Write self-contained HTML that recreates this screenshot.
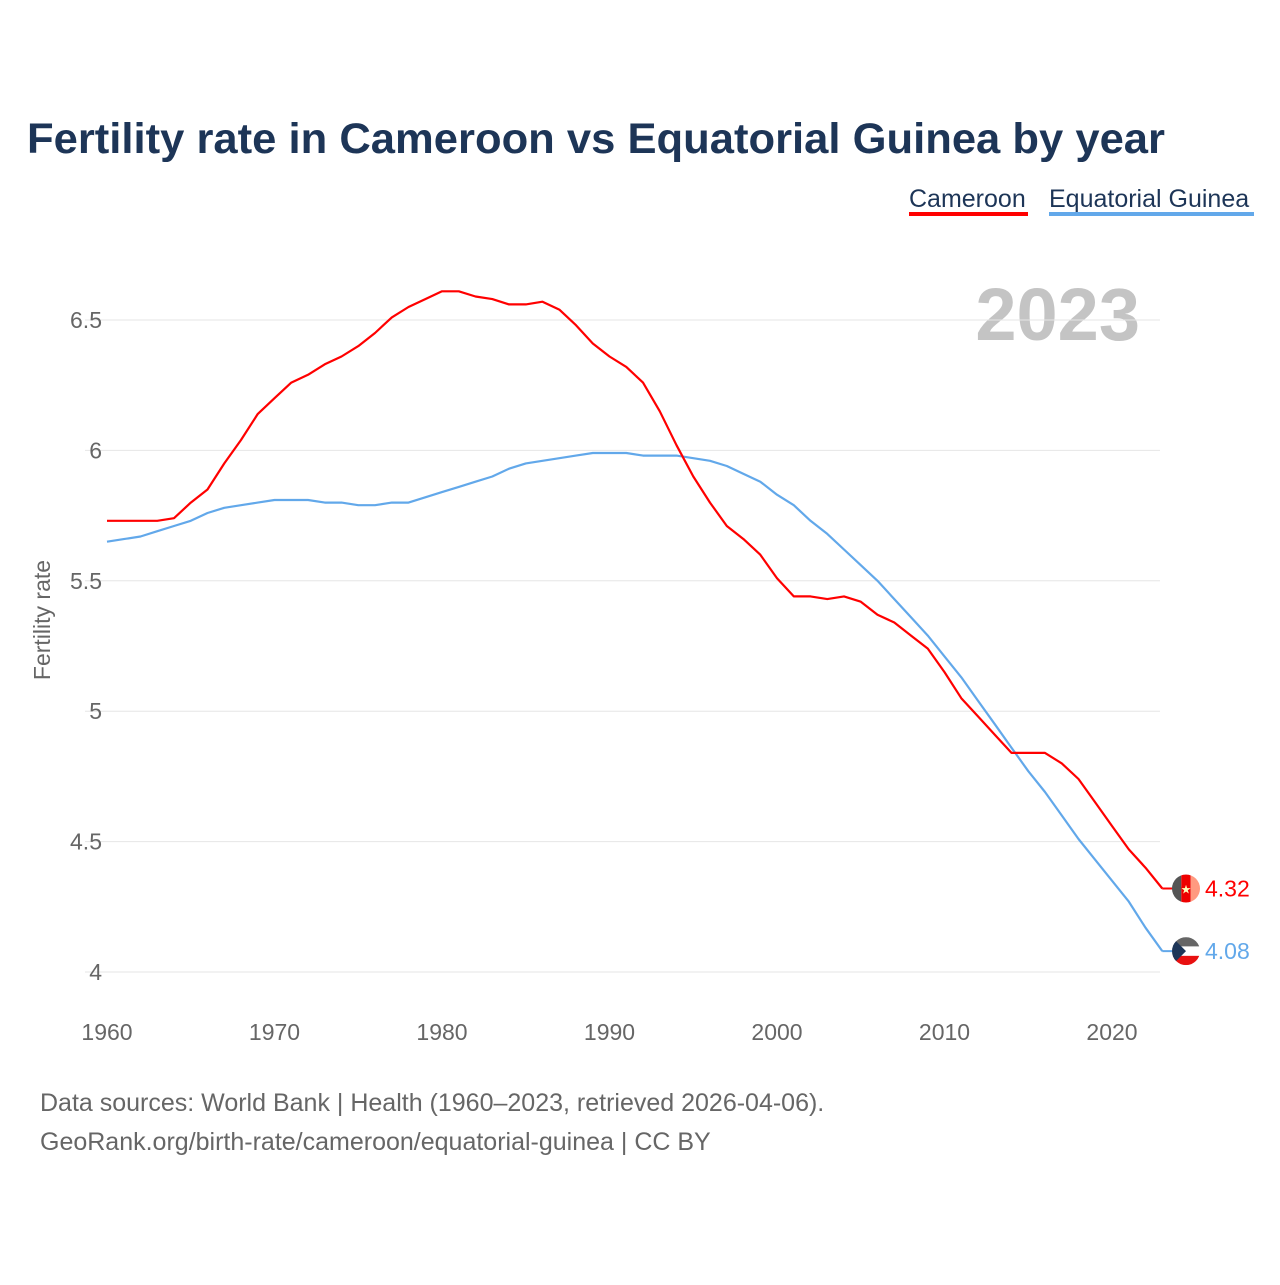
<!DOCTYPE html>
<html><head><meta charset="utf-8"><style>
html,body{margin:0;padding:0;background:#fff;}
body{width:1280px;height:1280px;position:relative;font-family:"Liberation Sans",sans-serif;}
</style></head><body>
<svg width="1280" height="1280" viewBox="0 0 1280 1280" id="chart">
<defs id="defs"></defs>
<text x="27" y="153" font-size="43" font-weight="bold" fill="#1d3557" textLength="1138" lengthAdjust="spacingAndGlyphs">Fertility rate in Cameroon vs Equatorial Guinea by year</text>
<g>
<text x="909" y="207" font-size="25" fill="#1d3557">Cameroon</text>
<rect x="909" y="212" width="119" height="4" fill="#ff0000"/>
<text x="1049" y="207" font-size="25" fill="#1d3557">Equatorial Guinea</text>
<rect x="1049" y="212" width="205" height="4" fill="#62a8ea"/>
</g>
<text x="1140" y="340" font-size="74" font-weight="bold" fill="#c4c4c4" text-anchor="end">2023</text>
<text transform="translate(50,620) rotate(-90)" font-size="23" fill="#666" text-anchor="middle">Fertility rate</text>
<g id="grid"></g><g id="yticks"></g><g id="xticks"></g><g id="series"></g>
<text x="40" y="1111" font-size="25" fill="#666">Data sources: World Bank | Health (1960–2023, retrieved 2026-04-06).</text>
<text x="40" y="1150" font-size="25" fill="#666">GeoRank.org/birth-rate/cameroon/equatorial-guinea | CC BY</text>
</svg>
<script>
const years=[];for(let y=1960;y<=2023;y++)years.push(y);
const cameroon=[5.73,5.73,5.73,5.73,5.74,5.80,5.85,5.95,6.04,6.14,6.20,6.26,6.29,6.33,6.36,6.40,6.45,6.51,6.55,6.58,6.61,6.61,6.59,6.58,6.56,6.56,6.57,6.54,6.48,6.41,6.36,6.32,6.26,6.15,6.02,5.90,5.80,5.71,5.66,5.60,5.51,5.44,5.44,5.43,5.44,5.42,5.37,5.34,5.29,5.24,5.15,5.05,4.98,4.91,4.84,4.84,4.84,4.80,4.74,4.65,4.56,4.47,4.40,4.32];
const eqGuinea=[5.65,5.66,5.67,5.69,5.71,5.73,5.76,5.78,5.79,5.80,5.81,5.81,5.81,5.80,5.80,5.79,5.79,5.80,5.80,5.82,5.84,5.86,5.88,5.90,5.93,5.95,5.96,5.97,5.98,5.99,5.99,5.99,5.98,5.98,5.98,5.97,5.96,5.94,5.91,5.88,5.83,5.79,5.73,5.68,5.62,5.56,5.50,5.43,5.36,5.29,5.21,5.13,5.04,4.95,4.86,4.77,4.69,4.60,4.51,4.43,4.35,4.27,4.17,4.08];
const yTicks=[4,4.5,5,5.5,6,6.5];
const yTickLabels=["4","4.5","5","5.5","6","6.5"];
const xTicks=[1960,1970,1980,1990,2000,2010,2020];
const NS="http://www.w3.org/2000/svg";
const x=v=>107+(v-1960)*(1112-107)/60;
const y=v=>972-(v-4)*(972-320)/2.5;
function mk(tag,attrs,parent){const e=document.createElementNS(NS,tag);for(const k in attrs)e.setAttribute(k,attrs[k]);parent.appendChild(e);return e;}
const grid=document.getElementById('grid'),yt=document.getElementById('yticks'),xt=document.getElementById('xticks'),ser=document.getElementById('series'),defs=document.getElementById('defs');
yTicks.forEach((t,i)=>{
 const l=mk('line',{x1:85,x2:1160,y1:y(t),y2:y(t),stroke:'#e6e6e6','stroke-width':1},grid);
 
 
 const tx=mk('text',{x:102,y:y(t)+8,'font-size':23,fill:'#666','text-anchor':'end'},yt);tx.textContent=yTickLabels[i];
 
 
});
xTicks.forEach(t=>{
 const tx=mk('text',{x:x(t),y:1040,'font-size':23,fill:'#666','text-anchor':'middle'},xt);tx.textContent=t;
 
 
});
function line(vals,color,name){
 const d=vals.map((v,i)=>(i?'L':'M')+x(years[i]).toFixed(1)+','+y(v).toFixed(1)).join('');
 const p=mk('path',{d:d,fill:'none',stroke:color,'stroke-width':2.2,'stroke-linejoin':'round'},ser);
 
 
}
line(eqGuinea,'#62a8ea','equatorial-guinea');
line(cameroon,'#ff0000','cameroon');
function endMark(vals,color,name,flag){
 const v=vals[vals.length-1],ex=x(years[years.length-1]),cy=y(v);
 mk('line',{x1:ex,x2:1186,y1:cy,y2:cy,stroke:color,'stroke-width':2},ser);
 const cp=mk('clipPath',{id:'clip-'+flag},defs);
 mk('circle',{cx:1186,cy:cy,r:14},cp);
 const g=mk('g',{'clip-path':'url(#clip-'+flag+')'},ser);
 
 
 if(flag==='cm'){
  mk('rect',{x:1172,y:cy-14,width:9.3,height:28,fill:'#555'},g);
  mk('rect',{x:1181.3,y:cy-14,width:9.4,height:28,fill:'#ee0000'},g);
  mk('rect',{x:1190.7,y:cy-14,width:9.3,height:28,fill:'#ff9a80'},g);
  mk('text',{x:1186,y:cy+5,'font-size':12,fill:'#ffb','text-anchor':'middle'},g).textContent='★';
 }else{
  mk('rect',{x:1172,y:cy-14,width:28,height:9.3,fill:'#666'},g);
  mk('rect',{x:1172,y:cy-4.7,width:28,height:9.4,fill:'#fff'},g);
  mk('rect',{x:1172,y:cy+4.7,width:28,height:9.3,fill:'#e81010'},g);
  mk('path',{d:`M1172,${cy-14}L1186,${cy}L1172,${cy+14}Z`,fill:'#1d3557'},g);
 }
 const tx=mk('text',{x:1205,y:cy+8,'font-size':23,fill:color},ser);tx.textContent=v.toFixed(2);
 
 
}
endMark(cameroon,'#ff0000','cameroon','cm');
endMark(eqGuinea,'#62a8ea','equatorial-guinea','gq');
</script>
</body></html>
